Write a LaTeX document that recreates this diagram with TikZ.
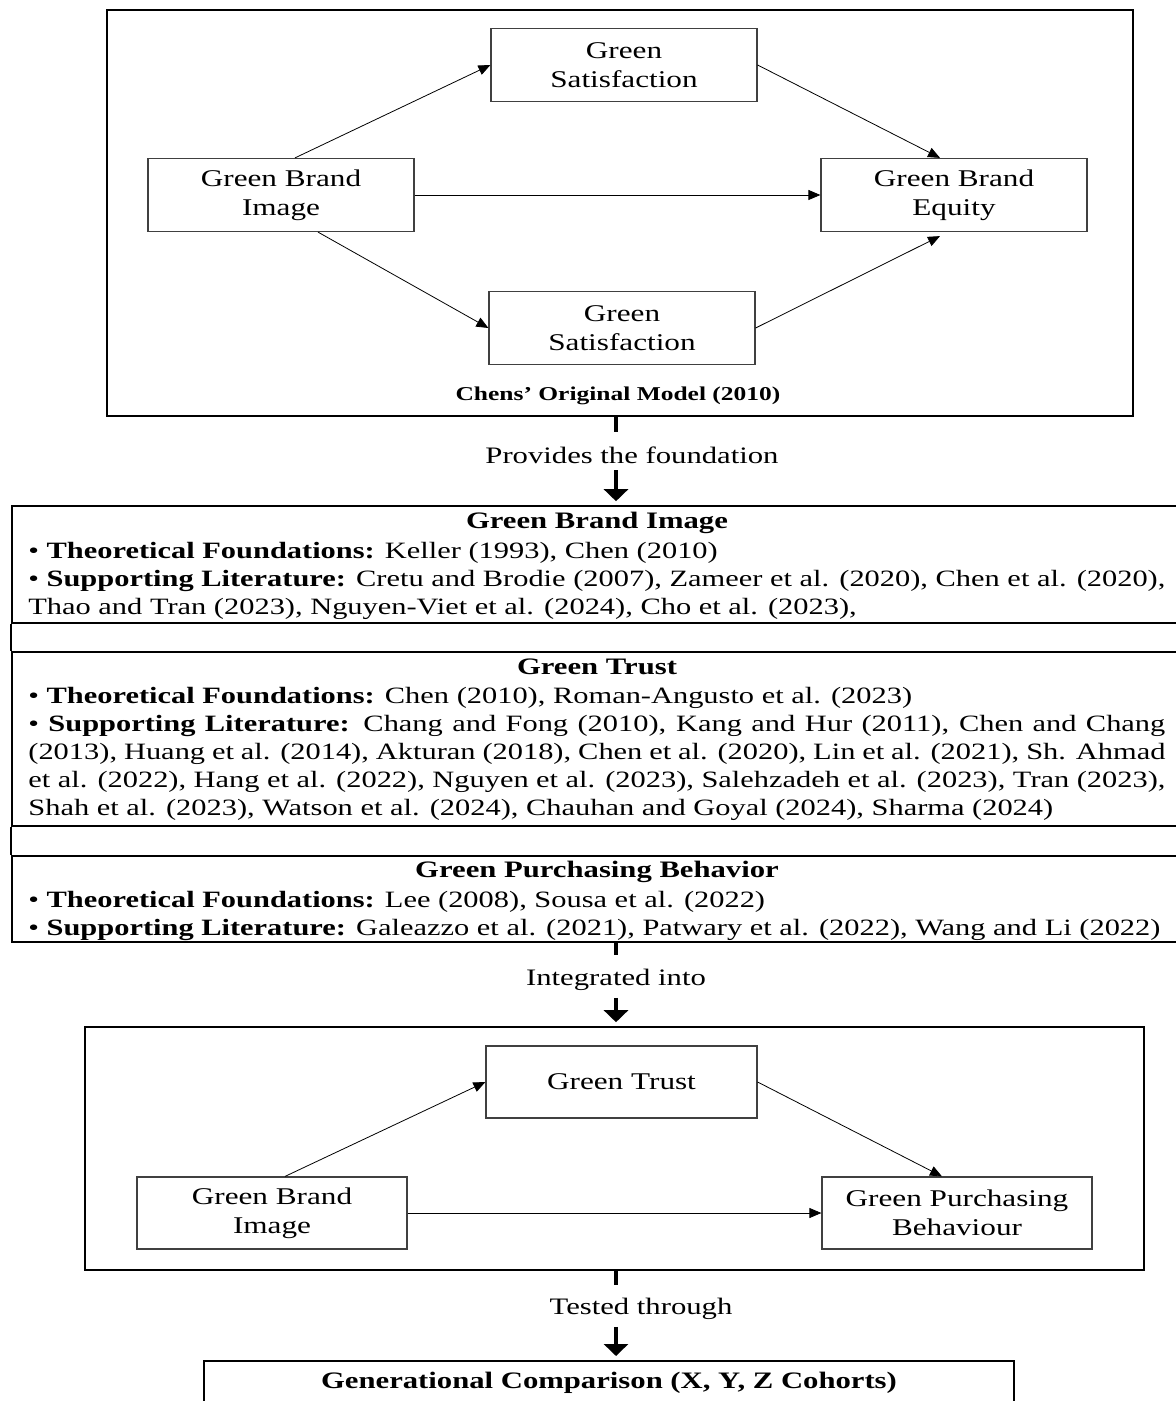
\documentclass[tikz,border=0pt]{standalone}
\usepackage{fontspec}
\setmainfont{Liberation Serif}[FakeStretch=1.3]
\usepackage{tikz}
\usetikzlibrary{arrows.meta,positioning}

\begin{document}
\begin{tikzpicture}[x=0.5pt, y=-0.5pt,
  box/.style={draw=black!75, line width=0.6pt, minimum width=133pt, minimum height=36.5pt,
    align=center, inner sep=0pt, font=\fontsize{12}{14.5}\selectfont},
  link/.style={-{Triangle[length=6pt,width=5pt]}, line width=0.4pt},
  frame/.style={draw, line width=0.8pt, inner sep=0pt},
  cell/.style={draw, line width=0.8pt, minimum width=589pt, inner sep=0pt},
  stub/.style={line width=2pt},
  bigarrow/.style={line width=2pt, -{Triangle[length=6pt,width=12pt]}, shorten >=2pt},
  head/.style={font=\fontsize{11.8}{14}\selectfont\bfseries},
  body/.style={font=\fontsize{11.7}{14}\selectfont, text width=568.5pt, align=justify,
    inner sep=0pt, anchor=north west},
  say/.style={font=\fontsize{11.8}{14}\selectfont}
]

  \clip (0,0) rectangle (1176,1401);

  %% Chen's model
  \node[frame, minimum width=513pt, minimum height=203pt] (chen) at (620,213) {};
  \node[box] (gsA) at (624,65) {Green\\Satisfaction};
  \node[box] (gbiA) at (281,195) {Green Brand\\Image};
  \node[box] (gbe) at (954,195) {Green Brand\\Equity};
  \node[box] (gsB) at (622,328) {Green\\Satisfaction};
  \node[font=\fontsize{9.8}{11}\selectfont\bfseries] (chencap) at (618,396) {Chens’ Original Model (2010)};

  \draw[link] ([xshift=7pt]gbiA.north) -- (gsA.west); %% GBI->GS
  \draw[link] (gsA.east) -- ([xshift=-7pt]gbe.north); %% GS->GBE
  \draw[link] (gbiA.east) -- (gbe.west); %% GBI->GBE
  \draw[link] ([xshift=18.5pt]gbiA.south) -- (gsB.west); %% GBI->GS
  \draw[link] (gsB.east) -- ([xshift=-7pt,yshift=-2pt]gbe.south); %% GS->GBE

  %% step 1
  \coordinate (sA) at (616,432);
  \draw[stub] (chen.south -| sA) -- (sA);
  \node[say] (found) at (632,455) {Provides the foundation};

  %% literature table
  \node[cell, minimum height=58.5pt] (litA) at (601,564.5) {};
  \node[cell, minimum height=87pt] (litB) at (601,739) {};
  \node[cell, minimum height=43pt] (litC) at (601,899) {};
  \draw[line width=0.8pt] (litA.south west) -- (litB.north west);
  \draw[line width=0.8pt] (litB.south west) -- (litC.north west);
  \draw[bigarrow] (found.south -| sA) -- (litA.north -| sA);

  \node[head] (gbiHead) at (597,523) {Green Brand Image};
  \node[body] (gbiText) at (28,542) {%
    • \textbf{Theoretical Foundations:} Keller (1993), Chen (2010)\newline
    • \textbf{Supporting Literature:} Cretu and Brodie (2007), Zameer et al. (2020), Chen et al. (2020),\linebreak
    Thao and Tran (2023), Nguyen-Viet et al. (2024), Cho et al. (2023),\par};

  \node[head] (gtHead) at (597,667) {Green Trust};
  \node[body] (gtText) at (28,687) {%
    • \textbf{Theoretical Foundations:} Chen (2010), Roman-Angusto et al. (2023)\newline
    • \textbf{Supporting Literature:} Chang and Fong (2010), Kang and Hur (2011), Chen and Chang\linebreak
    (2013), Huang et al. (2014), Akturan (2018), Chen et al. (2020), Lin et al. (2021), Sh. Ahmad\linebreak
    et al. (2022), Hang et al. (2022), Nguyen et al. (2023), Salehzadeh et al. (2023), Tran (2023),\linebreak
    Shah et al. (2023), Watson et al. (2024), Chauhan and Goyal (2024), Sharma (2024)\par};

  \node[head] (gpbHead) at (597,872) {Green Purchasing Behavior};
  \node[body] (gpbText) at (28,891) {%
    • \textbf{Theoretical Foundations:} Lee (2008), Sousa et al. (2022)\newline
    • \textbf{Supporting Literature:} Galeazzo et al. (2021), Patwary et al. (2022), Wang and Li (2022)\par};

  %% step 2
  \coordinate (sB) at (616,955);
  \draw[stub] (litC.south -| sB) -- (sB);
  \node[say] (integ) at (616,980) {Integrated into};

  %% research model
  \node[frame, minimum width=529.5pt, minimum height=121.5pt] (model) at (614.5,1148.5) {};
  \node[box, minimum width=135.5pt, minimum height=36pt] (gt) at (621.5,1082) {Green Trust};
  \node[box, minimum width=135pt, minimum height=36pt] (gbiB) at (272,1213) {Green Brand\\Image};
  \node[box, minimum width=135pt, minimum height=36pt] (gpb) at (957,1213) {Green Purchasing\\Behaviour};
  \draw[bigarrow] (integ.south -| sB) -- (model.north -| sB);

  \draw[link] ([xshift=6.5pt]gbiB.north) -- (gt.west); %% GBI->GT
  \draw[link] (gt.east) -- ([xshift=-7.5pt]gpb.north); %% GT->GPB
  \draw[link] (gbiB.east) -- (gpb.west); %% GBI->GPB

  %% step 3
  \coordinate (sC) at (616,1285);
  \draw[stub] (model.south -| sC) -- (sC);
  \node[say] (test) at (641,1309) {Tested through};
  \node[frame, minimum width=405pt, minimum height=40pt, anchor=north] (gen) at (609,1360) {};
  \draw[bigarrow] (test.south -| sC) -- (gen.north -| sC);
  \node[head] (genHead) at (609,1383) {Generational Comparison (X, Y, Z Cohorts)};

\end{tikzpicture}
\end{document}
